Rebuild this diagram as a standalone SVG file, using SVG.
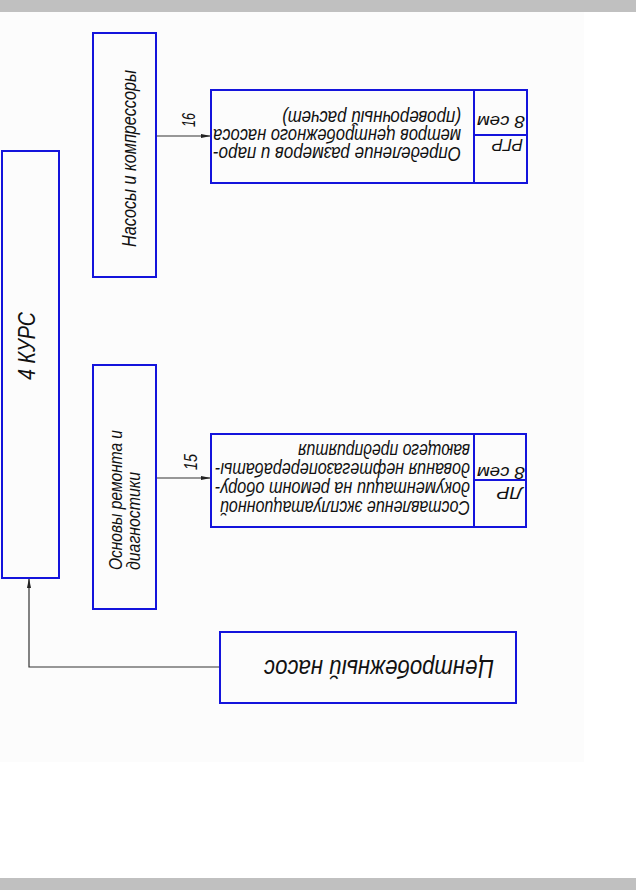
<svg xmlns="http://www.w3.org/2000/svg" width="636" height="890" viewBox="0 0 636 890">
<style>
.box{fill:none;stroke:#1414dc;stroke-width:2}
.t{font-family:"Liberation Sans","DejaVu Sans",sans-serif;font-style:italic;fill:#111}
.conn{fill:none;stroke:#333;stroke-width:1.2}
</style>
<defs>
<marker id="ah" viewBox="0 0 10 4" refX="10" refY="2" markerWidth="10" markerHeight="4" markerUnits="userSpaceOnUse" orient="auto">
<path d="M0,0 L10,2 L0,4 Z" fill="#222"/>
</marker>
</defs>
<rect x="0" y="0" width="636" height="890" fill="#ffffff"/>
<rect x="0" y="12" width="584" height="750" fill="#fcfcfc"/>
<rect x="0" y="0" width="636" height="12" fill="#c0c0c0"/>
<rect x="0" y="878" width="636" height="12" fill="#c0c0c0"/>

<g id="connectors">
<path class="conn" d="M156,136 H211" marker-end="url(#ah)"/>
<path class="conn" d="M156,478 H211" marker-end="url(#ah)"/>
<path class="conn" d="M220,667 H29 V578" marker-end="url(#ah)"/>
<text class="t" x="195" y="127" font-size="18" textLength="14" lengthAdjust="spacingAndGlyphs" transform="rotate(-90 195 127)">16</text>
<text class="t" x="197" y="470" font-size="18" textLength="16" lengthAdjust="spacingAndGlyphs" transform="rotate(-90 197 470)">15</text>
</g>

<g id="kurs4">
<rect class="box" x="2" y="151" width="57" height="427"/>
<text class="t" x="35" y="380" font-size="24" textLength="68" lengthAdjust="spacingAndGlyphs" transform="rotate(-90 35 380)">4 КУРС</text>
</g>

<g id="nasosy">
<rect class="box" x="93" y="33" width="63" height="244"/>
<text class="t" x="136" y="247" font-size="20" textLength="177" lengthAdjust="spacingAndGlyphs" transform="rotate(-90 136 247)">Насосы и компрессоры</text>
</g>

<g id="osnovy">
<rect class="box" x="93" y="365" width="63" height="244"/>
<text class="t" x="122" y="570" font-size="19" textLength="140" lengthAdjust="spacingAndGlyphs" transform="rotate(-90 122 570)">Основы ремонта и</text>
<text class="t" x="140" y="570" font-size="19" textLength="98" lengthAdjust="spacingAndGlyphs" transform="rotate(-90 140 570)">диагностики</text>
</g>

<g id="rgr">
<rect class="box" x="211" y="90" width="316" height="93"/>
<line class="box" x1="474" y1="90" x2="474" y2="183"/>
<line class="box" x1="474" y1="135" x2="527" y2="135"/>
<text class="t" x="461" y="111" font-size="21" textLength="179" lengthAdjust="spacingAndGlyphs" transform="rotate(180 461 111)">(проверочный расчет)</text>
<text class="t" x="461" y="129" font-size="21" textLength="248" lengthAdjust="spacingAndGlyphs" transform="rotate(180 461 129)">метров центробежного насоса</text>
<text class="t" x="461" y="147" font-size="21" textLength="248" lengthAdjust="spacingAndGlyphs" transform="rotate(180 461 147)">Определение размеров и паро-</text>
<text class="t" x="525" y="116" font-size="16" textLength="48" lengthAdjust="spacingAndGlyphs" transform="rotate(180 525 116)">8 сем</text>
<text class="t" x="523" y="139" font-size="17" textLength="31" lengthAdjust="spacingAndGlyphs" transform="rotate(180 523 139)">РГР</text>
</g>

<g id="lr">
<rect class="box" x="211" y="434" width="315" height="93"/>
<line class="box" x1="474" y1="434" x2="474" y2="527"/>
<line class="box" x1="474" y1="480" x2="526" y2="480"/>
<text class="t" x="470" y="444" font-size="21" textLength="172" lengthAdjust="spacingAndGlyphs" transform="rotate(180 470 444)">вающего предприятия</text>
<text class="t" x="470" y="463" font-size="21" textLength="255" lengthAdjust="spacingAndGlyphs" transform="rotate(180 470 463)">дования нефтегазоперерабаты-</text>
<text class="t" x="470" y="482" font-size="21" textLength="255" lengthAdjust="spacingAndGlyphs" transform="rotate(180 470 482)">документации на ремонт обору-</text>
<text class="t" x="470" y="501" font-size="21" textLength="250" lengthAdjust="spacingAndGlyphs" transform="rotate(180 470 501)">Составление эксплуатационной</text>
<text class="t" x="525" y="467" font-size="16" textLength="48" lengthAdjust="spacingAndGlyphs" transform="rotate(180 525 467)">8 сем</text>
<text class="t" x="523" y="487" font-size="17" textLength="26" lengthAdjust="spacingAndGlyphs" transform="rotate(180 523 487)">ЛР</text>
</g>

<g id="centrifugal">
<rect class="box" x="220" y="632" width="296" height="71"/>
<text class="t" x="494" y="660" font-size="26" textLength="230" lengthAdjust="spacingAndGlyphs" transform="rotate(180 494 660)">Центробежный насос</text>
</g>
</svg>
